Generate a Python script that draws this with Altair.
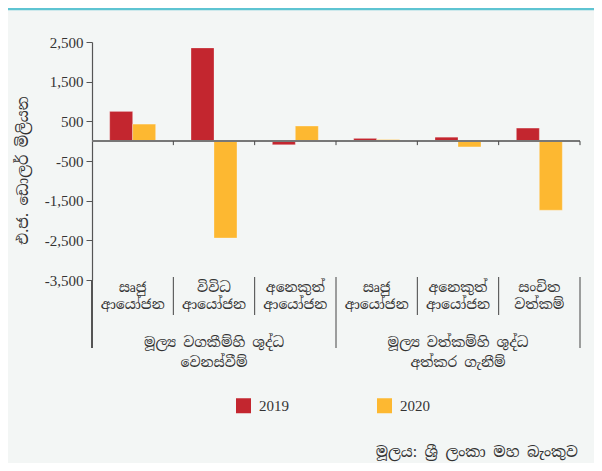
import altair as alt
import pandas as pd

# ---- data ----
categories = ["සෘජු\nආයෝජන", "විවිධ\nආයෝජන", "අනෙකුත්\nආයෝජන",
              "සෘජු\nආයෝජන", "අනෙකුත්\nආයෝජන", "සංචිත\nවත්කම්"]
groups = ["මූල්‍ය වගකීම්හි ශුද්ධ\nවෙනස්වීම්"] * 3 + ["මූල්‍ය වත්කම්හි ශුද්ධ\nඅත්කර ගැනීම්"] * 3
years = ["2019", "2020"]
values_2019 = [750, 2350, -90, 70, 100, 330]
values_2020 = [430, -2440, 380, 40, -145, -1740]
y_ticks = [-3500, -2500, -1500, -500, 500, 1500, 2500]
y_title = "එ.ජ. ඩොලර් මිලියන"
source_text = "මූලය: ශ්‍රී ලංකා මහ බැංකුව"
colors = ["#c3262f", "#fdb831"]

SIN = "Noto Serif Sinhala, Noto Sans Sinhala, Iskoola Pota, Lohit Sinhala, serif"
SERIF = "Liberation Serif"

keys = [f"c{i}" for i in range(len(categories))]
rows = []
for k, c, g, a, b in zip(keys, categories, groups, values_2019, values_2020):
    rows.append({"k": k, "cat": c, "grp": g, "year": years[0], "value": a})
    rows.append({"k": k, "cat": c, "grp": g, "year": years[1], "value": b})
bars_df = pd.DataFrame(rows)

grp_end = [groups[i] != (groups[i + 1] if i + 1 < len(groups) else None) for i in range(len(groups))]
cat_df = pd.DataFrame({"k": keys, "cat": categories, "grp": groups, "grp_end": grp_end,
                       "zero": [0] * len(keys), "tick_end": [-100] * len(keys)})

# middle category of each group carries the group label
grp_rows = []
for g in dict.fromkeys(groups):
    idx = [i for i, gg in enumerate(groups) if gg == g]
    grp_rows.append({"k": keys[idx[len(idx) // 2]], "grp": g})
grp_df = pd.DataFrame(grp_rows)

W, H = 488, 238

x = alt.X("k:N", sort=keys, scale=alt.Scale(paddingInner=0, paddingOuter=0), axis=None)
x_end = alt.X("k:N", sort=keys, bandPosition=1, scale=alt.Scale(paddingInner=0, paddingOuter=0), axis=None)
yscale = alt.Scale(domain=[-3500, 2500], nice=False, zero=False)
y_axis = alt.Axis(values=y_ticks,
                  labelExpr="replace(format(datum.value, ','), '\u2212', '-')",
                  labelOverlap=False, grid=False,
                  labelFont=SERIF, labelFontSize=15, labelColor="#333333",
                  labelPadding=3, tickSize=6, tickColor="#555555",
                  domainColor="#555555", domainWidth=1.2,
                  titleFont=SIN, titleFontSize=15, titleFontWeight="normal",
                  titleColor="#333333", titleX=-70, titleY=128,
                  titleAlign="center", titleBaseline="middle", titleAngle=270)

bars = alt.Chart(bars_df).mark_bar(strokeWidth=0.8, strokeOpacity=0.35, stroke="#ffffff").encode(
    x=x,
    xOffset=alt.XOffset("year:N", sort=years, scale=alt.Scale(paddingInner=0, paddingOuter=0.77)),
    y=alt.Y("value:Q", scale=yscale, title=y_title, axis=y_axis),
    color=alt.Color("year:N", sort=years,
                    scale=alt.Scale(domain=years, range=colors),
                    legend=alt.Legend(orient="none", legendX=144, legendY=356,
                                      direction="horizontal", title=None,
                                      symbolType="square", symbolSize=225,
                                      symbolStrokeWidth=0, labelFont=SERIF,
                                      labelFontSize=15, labelColor="#333333",
                                      labelOffset=8, columnPadding=88)),
)

zero_line = alt.Chart(cat_df).mark_rule(color="#777777", strokeWidth=1.5).encode(
    y=alt.Y("zero:Q", scale=yscale, title=y_title, axis=y_axis), x=alt.value(0), x2=alt.value(W)
)

zero_ticks = alt.Chart(cat_df).mark_rule(color="#444444", strokeWidth=1).encode(
    x=x_end, y=alt.Y("zero:Q", scale=yscale, title=y_title, axis=y_axis), y2="tick_end:Q"
)

inner_sep = alt.Chart(cat_df).transform_filter("!datum.grp_end").mark_rule(
    color="#444444", strokeWidth=1).encode(
    x=x_end, y=alt.value(235), y2=alt.value(273)
)
group_sep = alt.Chart(cat_df).transform_filter("datum.grp_end").mark_rule(
    color="#444444", strokeWidth=1).encode(
    x=x_end, y=alt.value(235), y2=alt.value(306)
)
axis_ext = alt.Chart(cat_df).mark_rule(color="#555555", strokeWidth=1.2).encode(
    x=alt.value(0), y=alt.value(H), y2=alt.value(306)
)

cat_labels = alt.Chart(cat_df).mark_text(
    font=SIN, fontSize=14, color="#333333", baseline="top", lineBreak="\n", lineHeight=17
).encode(x=x, y=alt.value(239), text="cat:N")

grp_labels = alt.Chart(grp_df).mark_text(
    font=SIN, fontSize=14, color="#333333", baseline="top", lineBreak="\n", lineHeight=20
).encode(x=x, y=alt.value(294), text="grp:N")

src = alt.Chart(pd.DataFrame({"t": [source_text]})).mark_text(
    font=SIN, fontSize=15, color="#333333", align="right", baseline="middle"
).encode(x=alt.value(486), y=alt.value(410), text="t:N")

top_line = alt.Chart(pd.DataFrame({"t": [source_text]})).mark_rule(
    color="#5ec4d2", strokeWidth=2.5).encode(
    x=alt.value(-84), x2=alt.value(W + 14), y=alt.value(-33)
)

chart = alt.layer(
    top_line, bars, zero_line, zero_ticks, inner_sep, group_sep, axis_ext,
    cat_labels, grp_labels, src
).properties(
    width=W, height=H,
    autosize=alt.AutoSizeParams(type="none"),
    padding={"left": 84, "top": 34, "right": 14, "bottom": 183},
).configure(
    background="#f3f6f5"
).configure_view(
    stroke=None
)

chart.save("out.html", embed_options={"renderer": "svg", "actions": False})
